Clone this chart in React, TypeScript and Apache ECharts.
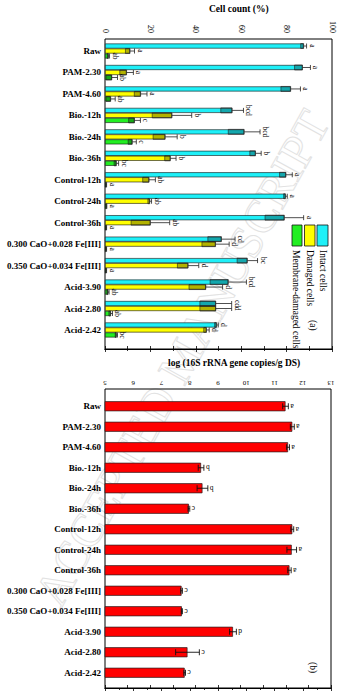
import React, { useEffect, useRef } from "react";
import * as echarts from "echarts";

const categories = [
  "Raw", "PAM-2.30", "PAM-4.60", "Bio.-12h", "Bio.-24h", "Bio.-36h",
  "Control-12h", "Control-24h", "Control-36h",
  "0.300 CaO+0.028 Fe[III]", "0.350 CaO+0.034 Fe[III]",
  "Acid-3.90", "Acid-2.80", "Acid-2.42",
];

const intact = [87.5, 87, 81.8, 56, 61.3, 66.3, 79.7, 79.5, 79, 51.3, 62.7, 54.3, 48.8, 49.1];
const intactSd = [1.3, 3.5, 4.3, 5, 7, 2.5, 2.8, 0.8, 8.5, 6, 4.5, 8, 7, 0.8];
const intactSig = ["a", "a", "a", "bcd", "bcd", "b", "a", "a", "a", "cd", "bc", "bcd", "cd", "d"];

const damaged = [11, 9.5, 15.7, 29.5, 26.5, 28.8, 19.4, 19.7, 20, 48.7, 36.6, 44.4, 48.8, 44.7];
const damagedSd = [2, 3, 2.8, 8.7, 5.3, 2.5, 2.8, 0.8, 8.5, 6, 4.7, 7.4, 7, 1.2];
const damagedSig = ["a", "a", "a", "b", "b", "b", "ab", "ab", "ab", "d", "d", "d", "d", "d"];

const membrane = [1.5, 3, 2.5, 13, 12, 5, 0.5, 0.6, 0.5, 0.5, 0.5, 1.3, 2.5, 5];
const membraneSd = [0.5, 2.5, 2, 2.6, 1.8, 1, 0.2, 0.2, 0.2, 0.2, 0.2, 0.5, 0.8, 0.5];
const membraneSig = ["ab", "ab", "ab", "c", "c", "bc", "a", "a", "a", "a", "a", "ab", "ab", "bc"];

const logCopies = [11.39, 11.63, 11.48, 8.4, 8.45, 7.97, 11.63, 11.61, 11.53, 7.71, 7.72, 9.53, 7.92, 7.82];
const logSd = [0.1, 0.07, 0.05, 0.1, 0.19, 0.03, 0.05, 0.17, 0.06, 0.03, 0.02, 0.12, 0.42, 0.03];
const logSig = ["a", "a", "a", "b", "b", "c", "a", "a", "a", "c", "c", "d", "c", "c"];

const legendNames = ["Membrane-damaged cells", "Damaged cells", "Intact cells"];
const SERIF = '"Liberation Serif", "Times New Roman", serif';

function errA(values: number[], sds: number[], sig: string[], offset: number) {
  return {
    type: "custom",
    xAxisIndex: 2,
    yAxisIndex: 1,
    z: 5,
    clip: false,
    data: values.map((v, i) => [v, i, sds[i]]),
    renderItem: (params: any, api: any) => {
      const mean = api.value(0);
      const idx = api.value(1);
      const sd = api.value(2);
      const c = api.coord([mean, idx]);
      const lo = api.coord([Math.max(0, mean - sd), idx]);
      const hi = api.coord([mean + sd, idx]);
      const y = c[1] + offset;
      const h = 5;
      return {
        type: "group",
        children: [
          {
            type: "rect",
            shape: { x: lo[0], y: y - h / 2, width: Math.max(0, c[0] - lo[0]), height: h },
            style: { fill: "rgba(0,0,0,0.3)", stroke: "#222", lineWidth: 0.6 },
          },
          {
            type: "line",
            shape: { x1: c[0], y1: y, x2: hi[0], y2: y },
            style: { stroke: "#222", lineWidth: 0.8 },
          },
          {
            type: "line",
            shape: { x1: hi[0], y1: y - h / 2, x2: hi[0], y2: y + h / 2 },
            style: { stroke: "#222", lineWidth: 0.8 },
          },
          {
            type: "text",
            x: hi[0] + 1.5,
            y: y,
            rotation: -Math.PI / 2,
            style: {
              text: sig[params.dataIndex],
              fontSize: 7.5,
              fontFamily: SERIF,
              fill: "#000",
              align: "center",
              verticalAlign: "bottom",
              textAlign: "center",
              textVerticalAlign: "bottom",
            },
          },
        ],
      };
    },
  };
}

export default function App() {
  const ref = useRef<HTMLDivElement>(null);
  useEffect(() => {
    if (!ref.current) return;
    const chart = echarts.init(ref.current, null, { renderer: "svg" });
    const tickStyle = { color: "#000", width: 0.8 };
    const option: any = {
      animation: false,
      backgroundColor: "#fff",
      grid: [
        { left: 105, top: 39, width: 227, height: 310, show: true, borderColor: "#000", borderWidth: 1, backgroundColor: "transparent", outerBoundsMode: "none" },
        { left: 105, top: 40.3, width: 227, height: 300.4, outerBoundsMode: "none" },
        { left: 105, top: 389, width: 226, height: 299, show: true, borderColor: "#000", borderWidth: 1, backgroundColor: "transparent", outerBoundsMode: "none" },
        { left: 105, top: 396, width: 226, height: 287, outerBoundsMode: "none" },
      ],
      xAxis: [
        {
          gridIndex: 0, type: "value", position: "top", min: 0, max: 100, interval: 20,
          axisLine: { show: true, lineStyle: { color: "#000" } },
          axisTick: { show: true, inside: true, length: 3, lineStyle: tickStyle },
          minorTick: { show: true, splitNumber: 2, length: 2, lineStyle: tickStyle },
          splitLine: { show: false },
          axisLabel: {
            show: true, rotate: -90, fontSize: 8, color: "#000", fontFamily: SERIF, margin: 6,
            align: "right", verticalAlign: "middle", hideOverlap: false,
            showMinLabel: true, showMaxLabel: true,
          },
        },
        {
          gridIndex: 0, type: "value", position: "bottom", min: 0, max: 100, interval: 10,
          axisLine: { show: true, lineStyle: { color: "#000" } },
          axisTick: { show: true, inside: true, length: 3, lineStyle: tickStyle },
          splitLine: { show: false },
          axisLabel: { show: false },
        },
        { gridIndex: 1, type: "value", min: 0, max: 100, show: false, splitLine: { show: false } },
        {
          gridIndex: 2, type: "value", position: "top", min: 5, max: 13, interval: 1,
          axisLine: { show: true, lineStyle: { color: "#000" } },
          axisTick: { show: true, inside: true, length: 3, lineStyle: tickStyle },
          minorTick: { show: true, splitNumber: 2, length: 2, lineStyle: tickStyle },
          splitLine: { show: false },
          axisLabel: { rotate: 180, fontSize: 7, color: "#000", fontFamily: SERIF, margin: 3, showMinLabel: true, showMaxLabel: true },
        },
        {
          gridIndex: 2, type: "value", position: "bottom", min: 0, max: 100, interval: 10,
          axisLine: { show: true, lineStyle: { color: "#000" } },
          axisTick: { show: true, inside: true, length: 3, lineStyle: tickStyle },
          splitLine: { show: false },
          axisLabel: { show: false },
        },
        { gridIndex: 3, type: "value", min: 5, max: 13, show: false, splitLine: { show: false } },
      ],
      yAxis: [
        { gridIndex: 0, type: "value", show: false, splitLine: { show: false } },
        {
          gridIndex: 1, type: "category", inverse: true, data: categories,
          axisLine: { show: false }, axisTick: { show: false },
          axisLabel: { fontSize: 9, fontWeight: "bold", color: "#000", fontFamily: SERIF, margin: 4, interval: 0 },
        },
        { gridIndex: 2, type: "value", show: false, splitLine: { show: false } },
        {
          gridIndex: 3, type: "category", inverse: true, data: categories,
          axisLine: { show: false }, axisTick: { show: false },
          axisLabel: { fontSize: 9, fontWeight: "bold", color: "#000", fontFamily: SERIF, margin: 4, interval: 0 },
        },
      ],
      series: [
        {
          type: "bar", name: legendNames[2], xAxisIndex: 2, yAxisIndex: 1, data: intact,
          barWidth: 5, barGap: "0%",
          itemStyle: { color: "#1ef0f8", borderColor: "#111", borderWidth: 0.6 },
        },
        {
          type: "bar", name: legendNames[1], xAxisIndex: 2, yAxisIndex: 1, data: damaged,
          barWidth: 5, barGap: "0%",
          itemStyle: { color: "#ffff00", borderColor: "#111", borderWidth: 0.6 },
        },
        {
          type: "bar", name: legendNames[0], xAxisIndex: 2, yAxisIndex: 1, data: membrane,
          barWidth: 5, barGap: "0%",
          itemStyle: { color: "#22ee22", borderColor: "#111", borderWidth: 0.6 },
        },
        errA(intact, intactSd, intactSig, -5),
        errA(damaged, damagedSd, damagedSig, 0),
        errA(membrane, membraneSd, membraneSig, 5),
        {
          type: "bar", xAxisIndex: 5, yAxisIndex: 3, data: logCopies, barWidth: 10,
          itemStyle: { color: "#ff0000", borderColor: "#222", borderWidth: 0.7 },
        },
        {
          type: "custom", xAxisIndex: 5, yAxisIndex: 3, z: 5, clip: false,
          data: logCopies.map((v, i) => [v, i, logSd[i]]),
          renderItem: (params: any, api: any) => {
            const mean = api.value(0);
            const idx = api.value(1);
            const sd = api.value(2);
            const c = api.coord([mean, idx]);
            const lo = api.coord([mean - sd, idx]);
            const hi = api.coord([mean + sd, idx]);
            const y = c[1];
            const h = 6;
            return {
              type: "group",
              children: [
                { type: "line", shape: { x1: lo[0], y1: y, x2: hi[0], y2: y }, style: { stroke: "#111", lineWidth: 0.9 } },
                { type: "line", shape: { x1: lo[0], y1: y - h / 2, x2: lo[0], y2: y + h / 2 }, style: { stroke: "#111", lineWidth: 0.9 } },
                { type: "line", shape: { x1: hi[0], y1: y - h / 2, x2: hi[0], y2: y + h / 2 }, style: { stroke: "#111", lineWidth: 0.9 } },
                {
                  type: "text", x: hi[0] + 2, y: y, rotation: Math.PI,
                  style: {
                    text: logSig[params.dataIndex], fontSize: 7.5, fontFamily: SERIF, fill: "#000",
                    align: "right", verticalAlign: "middle", textAlign: "right", textVerticalAlign: "middle",
                  },
                },
              ],
            };
          },
        },
      ],
      graphic: [
        {
          type: "text", x: 182, y: 358, rotation: (61 * Math.PI) / 180, z: -10, silent: true,
          style: {
            text: "ACCEPTED MANUSCRIPT", fontSize: 47, fontFamily: SERIF,
            fill: "rgba(0,0,0,0)", stroke: "#e2e2e2", lineWidth: 1,
            align: "center", verticalAlign: "middle", textAlign: "center", textVerticalAlign: "middle",
          },
        },
        {
          type: "text", x: 209, y: 9,
          style: { text: "Cell count (%)", fontSize: 9.5, fontWeight: "bold", fontFamily: SERIF, fill: "#000", align: "left", verticalAlign: "middle", textAlign: "left", textVerticalAlign: "middle" },
        },
        {
          type: "text", x: 168, y: 363,
          style: { text: "log (16S rRNA gene copies/g DS)", fontSize: 9.5, fontWeight: "bold", fontFamily: SERIF, fill: "#000", align: "left", verticalAlign: "middle", textAlign: "left", textVerticalAlign: "middle" },
        },
        { type: "rect", shape: { x: 292, y: 225, width: 10, height: 21 }, style: { fill: "#22ee22", stroke: "#111", lineWidth: 0.8 }, z: 10 },
        { type: "rect", shape: { x: 304.5, y: 225, width: 10.5, height: 21 }, style: { fill: "#ffff00", stroke: "#111", lineWidth: 0.8 }, z: 10 },
        { type: "rect", shape: { x: 317, y: 225, width: 11, height: 21 }, style: { fill: "#1ef0f8", stroke: "#111", lineWidth: 0.8 }, z: 10 },
        ...[
          { t: legendNames[0], x: 296 },
          { t: legendNames[1], x: 309.5 },
          { t: legendNames[2], x: 322.5 },
          { t: "(a)", x: 313, yy: 320 },
        ].map((d: any) => ({
          type: "text", x: d.x, y: d.yy ?? 250, rotation: -Math.PI / 2, z: 10,
          style: {
            text: d.t, fontSize: 9.5, fontFamily: SERIF, fill: "#000",
            align: "left", verticalAlign: "middle", textAlign: "left", textVerticalAlign: "middle",
          },
        })),
        {
          type: "text", x: 312.5, y: 662, rotation: -Math.PI / 2, z: 10,
          style: { text: "(b)", fontSize: 9.5, fontFamily: SERIF, fill: "#000", align: "left", verticalAlign: "middle", textAlign: "left", textVerticalAlign: "middle" },
        },
      ],
    };
    chart.setOption(option);
    return () => chart.dispose();
  }, []);
  return (
    <div
      ref={ref}
      style={{ position: "fixed", left: 0, top: 0, width: 353, height: 697, background: "#fff" }}
    />
  );
}
